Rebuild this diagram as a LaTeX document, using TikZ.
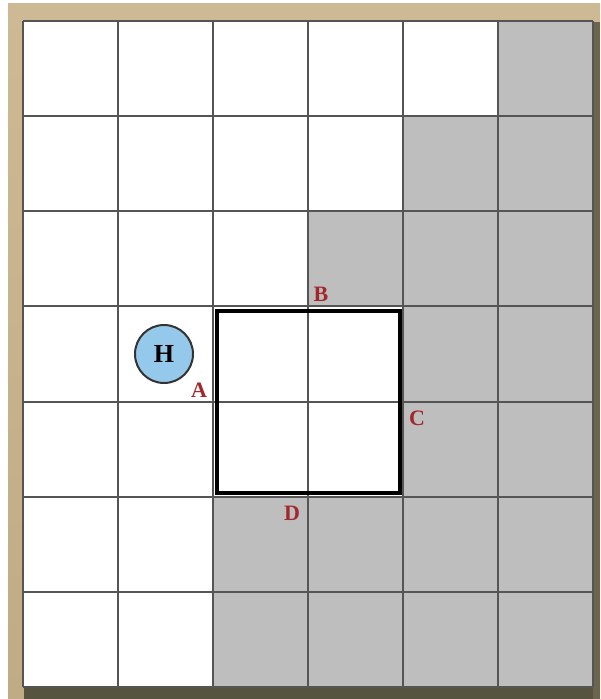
\documentclass[tikz,border=0pt]{standalone}
\usepackage{fontspec}
\setmainfont{Liberation Serif}
\definecolor{framecol}{HTML}{BFAB84}
\definecolor{framelight}{HTML}{CDB993}
\definecolor{shadowcol}{HTML}{56533F}
\definecolor{cellgray}{HTML}{BEBEBE}
\definecolor{gridline}{HTML}{555555}
\definecolor{lblred}{HTML}{A3282B}
\definecolor{hblue}{HTML}{95C9EC}
\tikzset{
  graycell/.style={fill=cellgray},
  gridstroke/.style={draw=gridline, line width=2pt},
  boxstroke/.style={draw=black, line width=4pt},
  cornerlbl/.style={text=lblred, font=\bfseries\fontsize{22}{22}\selectfont, inner sep=0pt},
  hnode/.style={circle, draw=black!80, line width=2pt, fill=hblue, minimum size=58pt, inner sep=0pt, font=\bfseries\fontsize{26}{26}\selectfont}
}
\begin{document}
\begin{tikzpicture}[x=1pt,y=-1pt]
\useasboundingbox (0,0) rectangle (600,699);
\fill[white] (0,0) rectangle (600,699);
\shade[top color=framelight, bottom color=framecol] (8,3) rectangle (600,699);
\fill[shadowcol] (24,686) rectangle (600,699);
\fill[shadowcol!80!framecol] (593,22) rectangle (600,699);
% board
\fill[white] (23,21) rectangle (593,687);
\foreach \c/\r in {5/0, 4/1,5/1, 3/2,4/2,5/2, 4/3,5/3, 4/4,5/4, 2/5,3/5,4/5,5/5, 2/6,3/6,4/6,5/6}
  \fill[graycell] ({23+95*\c},{21+95.14*\r}) rectangle ({23+95*(\c+1)},{21+95.14*(\r+1)});
\foreach \i in {0,...,6}
  \draw[gridstroke] ({23+95*\i},21) -- ({23+95*\i},687);
\foreach \j in {0,...,7}
  \draw[gridstroke] (23,{21+95.14*\j}) -- (593,{21+95.14*\j});
% highlighted square
\draw[boxstroke] (217,311) rectangle (400,493);
% labels
\node[cornerlbl] (B) at (321,294) {B};
\node[cornerlbl] (A) at (199,390) {A};
\node[cornerlbl] (C) at (417,418) {C};
\node[cornerlbl] (D) at (292,513) {D};
\node[hnode] (H) at (164,354) {H};
\end{tikzpicture}
\end{document}
